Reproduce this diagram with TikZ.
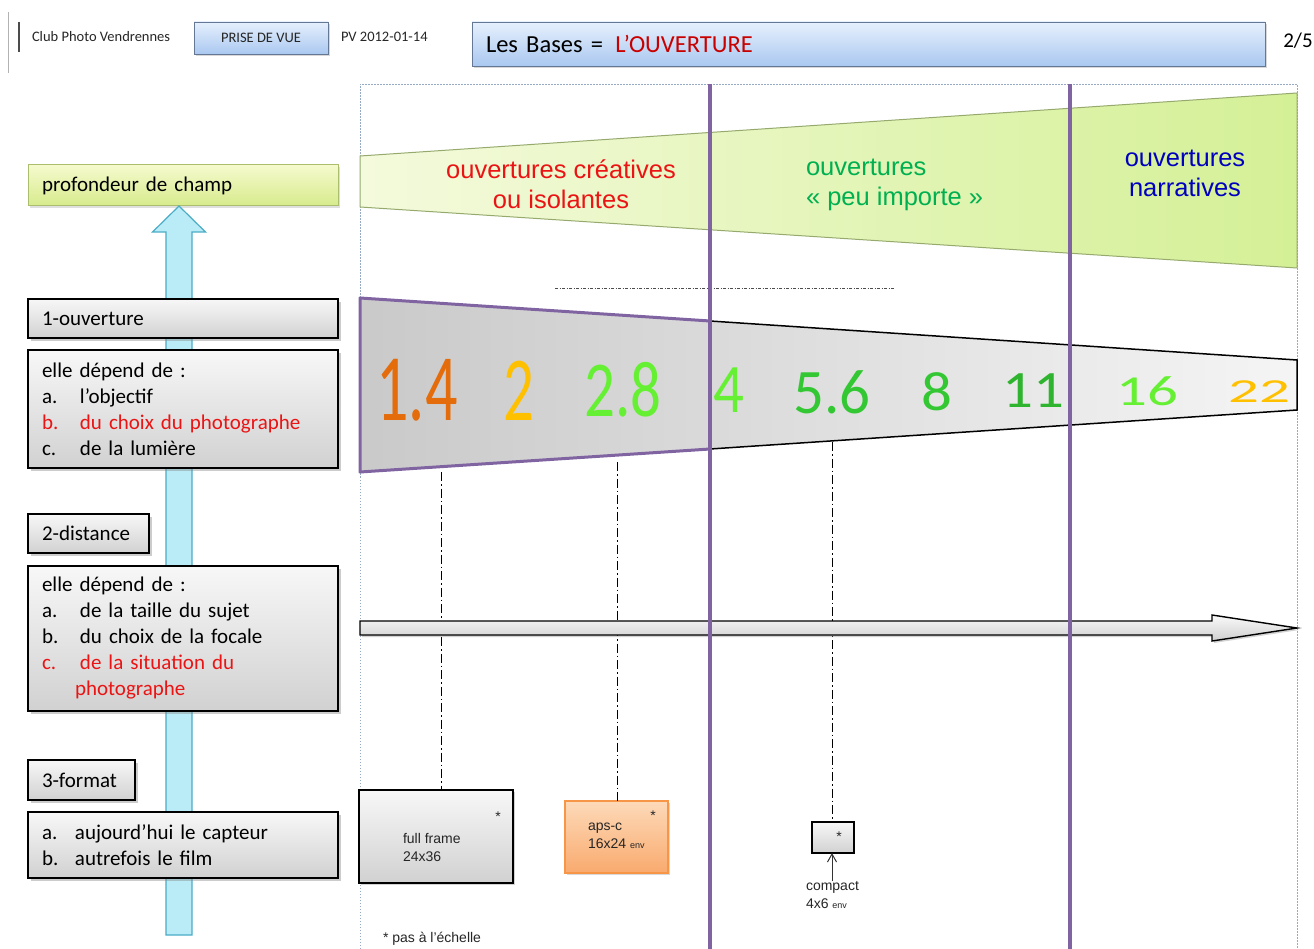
\documentclass[tikz,border=0pt]{standalone}
\usepackage{fontspec}
\setmainfont{Carlito}
\newfontfamily\arialf{Liberation Sans}
\usetikzlibrary{shadows,calc,arrows.meta}
\definecolor{purp}{RGB}{128,100,162}
\definecolor{frameblue}{RGB}{150,170,195}
\definecolor{hdrtop}{RGB}{230,240,253}
\definecolor{hdrbot}{RGB}{170,200,240}
\definecolor{hdrline}{RGB}{100,120,150}
\definecolor{gl}{RGB}{244,250,220}
\definecolor{gr}{RGB}{212,240,150}
\definecolor{gline}{RGB}{150,170,110}
\definecolor{ctred}{RGB}{235,20,20}
\definecolor{ctgreen}{RGB}{0,176,80}
\definecolor{ctblue}{RGB}{0,0,190}
\definecolor{nOrange}{RGB}{228,108,10}
\definecolor{nYellow}{RGB}{255,192,0}
\definecolor{nLight}{RGB}{102,240,51}
\definecolor{nGreen}{RGB}{51,200,51}
\definecolor{cyanfill}{RGB}{185,236,246}
\definecolor{cyanline}{RGB}{75,172,198}
\definecolor{pdcT}{RGB}{245,250,205}
\definecolor{pdcB}{RGB}{215,235,140}
\definecolor{pdcline}{RGB}{170,190,110}
\definecolor{orT}{RGB}{253,218,185}
\definecolor{orB}{RGB}{249,170,110}
\definecolor{orline}{RGB}{247,150,70}
\definecolor{titred}{RGB}{200,0,0}
\tikzset{
  every node/.style={inner sep=0pt, outer sep=0pt},
  hdrtxt/.style={font=\fontsize{14.5}{16}\selectfont, text=black!85},
  hdrbox/.style={draw=hdrline, line width=0.8pt, top color=hdrtop, bottom color=hdrbot,
    drop shadow={opacity=0.3, shadow xshift=2pt, shadow yshift=-2pt}},
  graybox/.style={draw=black, line width=1.8pt, top color=gray!6, bottom color=gray!36,
    drop shadow={opacity=0.4, shadow xshift=3pt, shadow yshift=-3pt},
    anchor=north west, inner xsep=14pt, align=left, font=\fontsize{21}{26}\selectfont},
  zonetxt/.style={font=\arialf\fontsize{25.5}{30}\selectfont, align=center},
  num/.style={font=\fontsize{61}{61}\selectfont},
  dd/.style={black, line width=0.9pt, dash pattern=on 9pt off 3pt on 1.5pt off 3pt},
  smalltxt/.style={font=\arialf\fontsize{14}{18}\selectfont, text=black!85, align=left},
}
\begin{document}
\begin{tikzpicture}[x=1pt,y=-1pt]
\useasboundingbox (0,0) rectangle (1314,949);
\fill[white] (0,0) rectangle (1314,949);

% ---------- header ----------
\draw[gray!60, line width=1pt] (8,12) -- (8,73);
\draw[black!70, line width=1.3pt] (19,22) -- (19,52);
\node[hdrtxt, anchor=west] (club) at (32,37) {Club Photo Vendrennes};
\node[hdrbox, hdrtxt, minimum width=134pt, minimum height=32pt] (prise) at (261,38) {PRISE DE VUE};
\node[hdrtxt, anchor=west] (pv) at (341,37) {PV 2012-01-14};
\node[hdrbox, anchor=west, minimum height=44pt, text width=765pt, inner xsep=14pt, align=left,
      font=\fontsize{24.5}{26}\selectfont] (title) at (472,44) {Les Bases =\, \textcolor{titred}{L’OUVERTURE}};
\node[font=\fontsize{21}{22}\selectfont] (page) at (1298,41) {2/5};

% ---------- frame ----------
\draw[frameblue, dash pattern=on 1.5pt off 1.5pt, line width=0.8pt] (360,949) -- (360,84) -- (1297,84) -- (1297,949);

% ---------- green trapezoid ----------
\draw[gline, line width=1pt, left color=gl, right color=gr] (360,156) -- (1297,93) -- (1297,268) -- (360,207) -- cycle;
\node[zonetxt, text=ctred] (crea) at (561,184) {ouvertures créatives\\ou isolantes};
\node[zonetxt, text=ctgreen, anchor=west, align=left] (peu) at (806,185) {ouvertures\\« peu importe »};
\node[zonetxt, text=ctblue] (narr) at (1185,173) {ouvertures\\narratives};

\draw[black!70, line width=0.8pt, dash pattern=on 3pt off 1.5pt on 1pt off 1.5pt] (555,288) -- (895,288);

% ---------- gray trapezoid ----------
\path[left color=gray!42, right color=gray!8] (360,298) -- (1297,360) -- (1297,410) -- (360,472) -- cycle;
\draw[black, line width=1.5pt] (710,321) -- (1297,360) -- (1297,410) -- (710,449);
\draw[purp, line width=3pt, line join=round] (710,321) -- (360,298) -- (360,472) -- (710,449);

\node[num, text=nOrange] (n1) at (417,390) {\scalebox{1.05}[1.56]{1.4}};
\node[num, text=nYellow] (n2) at (519,391) {\scalebox{1}[1.5]{2}};
\node[num, text=nLight] (n3) at (623,390) {\scalebox{1}[1.3]{2.8}};
\node[num, text=nLight] (n4) at (729,390) {\scalebox{1}[1.14]{4}};
\node[num, text=nGreen] (n5) at (832,392) {\scalebox{1}[1.04]{5.6}};
\node[num, text=nGreen] (n6) at (937,392) {\scalebox{1}[0.91]{8}};
\node[num, text=nGreen!90!black] (n7) at (1033,391) {\scalebox{1}[0.86]{11}};
\node[num, text=nLight] (n8) at (1147,391) {\scalebox{1}[0.7]{16}};
\node[num, text=nYellow] (n9) at (1259,392) {\scalebox{1}[0.55]{22}};

% ---------- bottom boxes ----------
\node[draw=black, line width=1.8pt, top color=gray!6, bottom color=gray!36, anchor=north west,
      minimum width=154pt, minimum height=93pt,
      drop shadow={opacity=0.35, shadow xshift=2pt, shadow yshift=-2pt}] (ff) at (359,790) {};
\node[smalltxt, anchor=west] (fft) at (403,847) {full frame\\24x36};
\node[smalltxt] (ffs) at (498,817) {*};

\node[draw=orline, line width=1.5pt, top color=orT, bottom color=orB, anchor=north west,
      minimum width=103pt, minimum height=72pt,
      drop shadow={opacity=0.3, shadow xshift=2pt, shadow yshift=-2pt}] (aps) at (565,801) {};
\node[smalltxt, anchor=west] (apst) at (588,836) {aps-c\\16x24 {\fontsize{9}{10}\selectfont env}};
\node[smalltxt] (apss) at (653,816) {*};

\node[draw=black, line width=2pt, top color=gray!6, bottom color=gray!36, anchor=north west,
      minimum width=42pt, minimum height=31pt] (cbox) at (812,822) {};
\node[smalltxt] (cboxs) at (839,837) {*};
\node[smalltxt, anchor=north west] (ctxt) at (806,881) {compact\\4x6 {\fontsize{9}{10}\selectfont env}};
\coordinate (carr) at (832,881);
\draw[black!80, line width=1pt, -{Straight Barb[length=8pt,width=9pt]}] (carr) -- (carr |- cbox.south);

\node[smalltxt, anchor=west] (note) at (383,939) {* pas à l’échelle};

% ---------- dash-dot verticals ----------
\coordinate (t1) at (441,472);
\coordinate (t2) at (617,462);
\coordinate (t3) at (832,442);
\draw[dd] (t1) -- (t1 |- ff.north);
\draw[dd] (t2) -- (t2 |- aps.north);
\draw[dd] (t3) -- (t3 |- cbox.north);

% ---------- big arrow ----------
\coordinate (bs) at (360,628);
\coordinate (be) at (1297,628);
\draw[black, line width=1.4pt, line join=miter, top color=gray!4, bottom color=gray!38,
      drop shadow={opacity=0.35, shadow xshift=2pt, shadow yshift=-2pt}]
  ($(bs)+(0,-7)$) -- ($(be)+(-85,-7)$) -- ($(be)+(-85,-13)$) -- (be) -- ($(be)+(-85,13)$) -- ($(be)+(-85,7)$) -- ($(bs)+(0,7)$) -- cycle;

% ---------- purple separators ----------
\draw[purp, line width=4pt] (710,84) -- (710,949);
\draw[purp, line width=4pt] (1070,84) -- (1070,949);

% ---------- left column ----------
\node[draw=pdcline, line width=1pt, top color=pdcT, bottom color=pdcB, anchor=north west,
      minimum height=41pt, text width=282pt, inner xsep=14pt, align=left,
      font=\fontsize{21}{26}\selectfont,
      drop shadow={opacity=0.25, shadow xshift=2pt, shadow yshift=-2pt}] (pdc) at (28,165) {profondeur de champ};

\coordinate (ab) at (179,935);
\path (ab |- pdc.south) coordinate (at);
\draw[cyanline, line width=1.2pt, fill=cyanfill, line join=miter]
  ($(ab)+(-13,0)$) -- ($(at)+(-13,26)$) -- ($(at)+(-26.5,26)$) -- (at) -- ($(at)+(26.5,26)$) -- ($(at)+(13,26)$) -- ($(ab)+(13,0)$) -- cycle;

\node[graybox, minimum height=39pt, text width=282pt] (o1) at (28,299) {1-ouverture};
\node[graybox, minimum height=118pt, text width=282pt] (d1) at (28,350)
  {elle dépend de :\\
   \makebox[38pt][l]{a.}l’objectif\\
   \textcolor{ctred}{\makebox[38pt][l]{b.}du choix du photographe}\\
   \makebox[38pt][l]{c.}de la lumière};
\node[graybox, minimum height=39pt, text width=93pt] (o2) at (28,514) {2-distance};
\node[graybox, minimum height=145pt, text width=282pt] (d2) at (28,566)
  {elle dépend de :\\
   \makebox[38pt][l]{a.}de la taille du sujet\\
   \makebox[38pt][l]{b.}du choix de la focale\\
   \textcolor{ctred}{\makebox[38pt][l]{c.}de la situation du}\\
   \textcolor{ctred}{\hspace*{33pt}photographe}};
\node[graybox, minimum height=40pt, text width=79pt] (o3) at (28,760) {3-format};
\node[graybox, minimum height=66pt, text width=282pt] (d3) at (28,812)
  {\makebox[33pt][l]{a.}aujourd’hui le capteur\\
   \makebox[33pt][l]{b.}autrefois le film};
\end{tikzpicture}
\end{document}
